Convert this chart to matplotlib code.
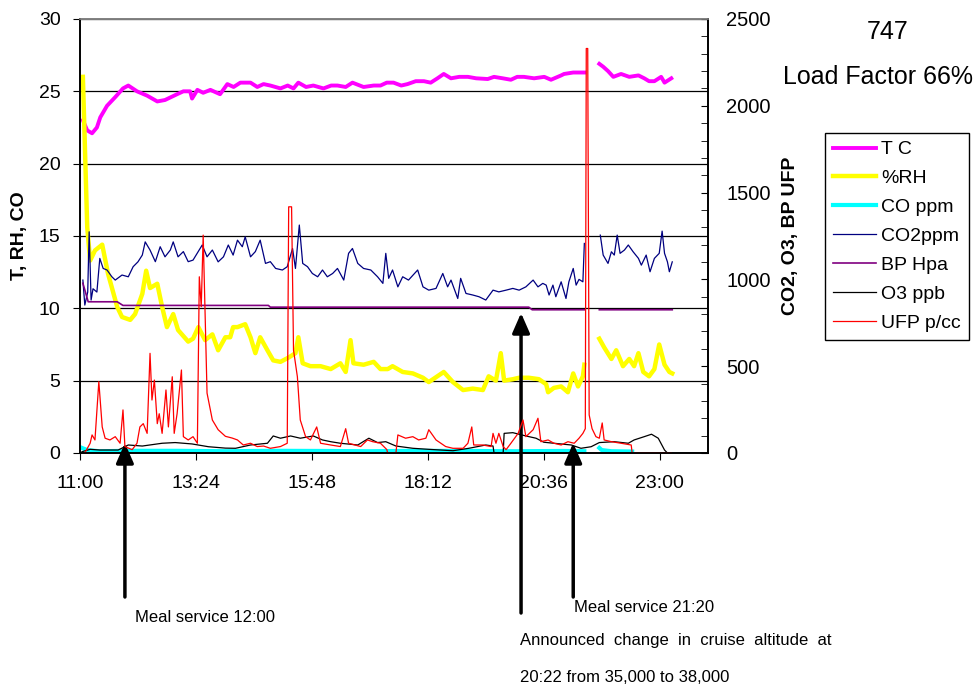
import matplotlib.pyplot as plt
import numpy as np
from matplotlib.transforms import blended_transform_factory

nan = np.nan

# time axis (decimal hours) and tick labels
tick_hours = [11.0, 13.4, 15.8, 18.2, 20.6, 23.0]
tick_labels = ["11:00", "13:24", "15:48", "18:12", "20:36", "23:00"]

# T C (left axis)
t_temp = [11.06, 11.15, 11.25, 11.35, 11.42, 11.56, 11.73, 11.89, 12.00, 12.18,
          12.39, 12.60, 12.76, 13.01, 13.14, 13.28, 13.32, 13.43, 13.55, 13.70,
          13.90, 14.05, 14.18, 14.32, 14.53, 14.67, 14.80, 14.94, 15.15, 15.30,
          15.42, 15.52, 15.68, 15.83, 16.04, 16.20, 16.33, 16.50, 16.64, 16.87,
          17.08, 17.22, 17.35, 17.49, 17.65, 17.78, 17.95, 18.12, 18.26, 18.40,
          18.53, 18.68, 18.85, 19.03, 19.20, 19.44, 19.57, 19.75, 19.92, 20.05,
          20.19, 20.40, 20.61, 20.75, 20.96, 21.02, 21.21, 21.44, nan, 21.75,
          21.83, 21.93, 22.04, 22.20, 22.37, 22.56, 22.68, 22.78, 22.89, 23.03,
          23.10, 23.24]
temp = [23.0, 22.3, 22.1, 22.5, 23.2, 24.0, 24.6, 25.2, 25.4, 25.0,
        24.7, 24.3, 24.4, 24.8, 25.0, 25.0, 24.5, 25.1, 24.9, 25.1,
        24.8, 25.5, 25.3, 25.6, 25.6, 25.3, 25.5, 25.4, 25.2, 25.4,
        25.2, 25.6, 25.3, 25.4, 25.2, 25.4, 25.4, 25.3, 25.6, 25.3,
        25.4, 25.4, 25.6, 25.6, 25.4, 25.5, 25.7, 25.7, 25.6, 25.9,
        26.2, 25.9, 26.0, 26.0, 25.9, 25.85, 26.0, 25.9, 25.8, 26.0,
        26.0, 25.9, 26.0, 25.8, 26.1, 26.2, 26.3, 26.3, nan, 26.9,
        26.7, 26.4, 26.0, 26.2, 26.0, 26.1, 25.9, 25.7, 25.7, 26.0,
        25.6, 25.9]

# %RH (left axis)
t_rh = [11.06, 11.15, 11.21, 11.31, 11.46, 11.58, 11.77, 11.87, 12.04, 12.14,
        12.29, 12.37, 12.45, 12.60, 12.70, 12.80, 12.93, 13.03, 13.24, 13.34,
        13.45, 13.59, 13.74, 13.86, 14.01, 14.11, 14.17, 14.26, 14.42, 14.53,
        14.63, 14.73, 14.88, 15.00, 15.15, 15.32, 15.46, 15.52, 15.61, 15.77,
        15.98, 16.19, 16.39, 16.50, 16.60, 16.66, 16.87, 17.08, 17.22, 17.37,
        17.47, 17.68, 17.89, 18.10, 18.22, 18.53, 18.72, 18.93, 19.13, 19.34,
        19.46, 19.61, 19.71, 19.78, 19.96, 20.09, 20.29, 20.50, 20.65, 20.69,
        20.81, 20.96, 21.10, 21.21, 21.31, 21.41, 21.44, nan, 21.75, 21.85,
        22.00, 22.10, 22.24, 22.37, 22.47, 22.56, 22.66, 22.78, 22.89, 22.99,
        23.10, 23.20, 23.26]
rh = [26.0, 15.6, 13.3, 14.0, 14.4, 12.4, 10.1, 9.4, 9.2, 9.6,
      11.0, 12.6, 11.4, 11.7, 10.1, 8.7, 9.6, 8.5, 7.7, 7.9,
      8.7, 7.8, 8.2, 7.1, 8.0, 8.0, 8.7, 8.7, 8.9, 8.0,
      6.9, 8.0, 7.1, 6.4, 6.3, 6.6, 6.9, 8.0, 6.2, 6.0,
      6.0, 5.8, 6.2, 5.6, 7.8, 6.2, 6.1, 6.3, 5.8, 5.8,
      6.0, 5.6, 5.5, 5.2, 4.9, 5.6, 4.9, 4.35, 4.45, 4.35,
      5.3, 5.0, 6.9, 5.0, 5.1, 5.2, 5.2, 5.1, 4.75, 4.2,
      4.5, 4.6, 4.2, 5.5, 4.6, 5.3, 6.1, nan, 7.9, 7.3,
      6.5, 7.1, 6.0, 6.5, 6.0, 6.9, 5.6, 5.3, 5.8, 7.5,
      6.1, 5.6, 5.5]

# CO ppm (left axis)
t_co = [11.04, 11.15, 11.40, 12.00, 13.00, 14.00, 15.00, 16.00, 17.00, 18.00,
        19.00, 20.00, 21.00, 21.44, nan, 21.75, 21.80, 22.00, 22.43]
co = [0.35, 0.20, 0.12, 0.15, 0.15, 0.12, 0.15, 0.14, 0.12, 0.15,
      0.14, 0.12, 0.14, 0.12, nan, 0.35, 0.20, 0.12, 0.10]

# CO2 ppm (right axis)
t_co2 = [11.06, 11.10, 11.16, 11.19, 11.23, 11.27, 11.35, 11.41, 11.48, 11.56,
         11.66, 11.73, 11.87, 12.00, 12.10, 12.20, 12.29, 12.35, 12.45, 12.56,
         12.66, 12.76, 12.87, 12.93, 13.03, 13.14, 13.24, 13.34, 13.53, 13.63,
         13.74, 13.86, 13.97, 14.07, 14.17, 14.26, 14.36, 14.42, 14.53, 14.63,
         14.73, 14.84, 14.94, 15.05, 15.19, 15.29, 15.40, 15.46, 15.54, 15.61,
         15.71, 15.81, 15.92, 16.02, 16.12, 16.23, 16.33, 16.46, 16.56, 16.64,
         16.75, 16.87, 17.02, 17.16, 17.27, 17.33, 17.39, 17.47, 17.58, 17.68,
         17.80, 17.99, 18.10, 18.22, 18.37, 18.51, 18.61, 18.68, 18.82, 18.88,
         18.99, 19.13, 19.26, 19.40, 19.55, 19.67, 19.82, 19.96, 20.09, 20.23,
         20.38, 20.48, 20.58, 20.65, 20.71, 20.79, 20.85, 20.96, 21.06, 21.12,
         21.21, 21.27, 21.33, 21.41, 21.44, nan, 21.77, 21.83, 21.93, 22.00,
         22.06, 22.12, 22.18, 22.27, 22.35, 22.45, 22.56, 22.62, 22.72, 22.80,
         22.89, 22.99, 23.05, 23.10, 23.16, 23.20, 23.26]
co2 = [996, 852, 927, 1274, 881, 946, 927, 1121, 1063, 1054,
       1015, 996, 1025, 1015, 1073, 1101, 1140, 1216, 1169, 1102,
       1188, 1130, 1169, 1216, 1130, 1160, 1102, 1111, 1198, 1130,
       1169, 1101, 1130, 1198, 1140, 1226, 1188, 1245, 1130, 1160,
       1226, 1092, 1102, 1063, 1054, 1073, 1178, 1063, 1313, 1092,
       1073, 1034, 1015, 1054, 1015, 1034, 1063, 996, 1150, 1178,
       1092, 1063, 1054, 1015, 977, 1150, 1006, 1054, 957, 1015,
       996, 1054, 957, 938, 948, 1034, 957, 996, 890, 1006,
       919, 910, 900, 881, 938, 928, 938, 948, 938, 957,
       996, 957, 977, 967, 910, 967, 900, 986, 890, 986,
       1063, 967, 1000, 986, 1207, nan, 1255, 1140, 1092, 1159,
       1140, 1255, 1150, 1169, 1198, 1159, 1121, 1082, 1140, 1044,
       1121, 1150, 1278, 1150, 1101, 1044, 1101]

# BP Hpa (right axis)
t_bp = [11.06, 11.17, 11.77, 11.89, 14.90, 14.94, 20.29, 20.36, 21.44, nan, 21.75, 23.26]
bp = [978, 871, 871, 850, 850, 840, 840, 825, 825, nan, 825, 825]

# O3 ppb (right axis)
t_o3 = [11.04, 11.21, 11.41, 11.79, 12.00, 12.29, 12.70, 12.97, 13.32, 13.66,
        14.01, 14.22, 14.53, 14.88, 15.00, 15.15, 15.36, 15.56, 15.83, 16.02,
        16.19, 16.39, 16.75, 16.98, 17.16, 17.33, 17.54, 17.89, 18.22, 18.72,
        19.05, 19.40, 19.55, 19.57, 19.76, 19.78, 19.96, 20.23, 20.44, 20.60,
        20.81, 21.17, 21.37, 21.58, 21.75, 22.06, 22.35, 22.47, 22.68, 22.83,
        22.97, 23.10, 23.16]
o3 = [7, 21, 17, 17, 46, 40, 56, 60, 52, 36,
      28, 27, 46, 56, 98, 85, 98, 85, 98, 75,
      65, 56, 46, 85, 60, 65, 40, 27, 21, 13,
      27, 46, 40, 2, 2, 113, 117, 98, 85, 62,
      56, 46, 27, 36, 60, 65, 56, 75, 94, 108,
      85, 17, 0]

# UFP p/cc (right axis)
t_ufp = [11.10, 11.21, 11.25, 11.31, 11.39, 11.46, 11.52, 11.62, 11.73, 11.83,
         11.89, 11.93, 12.08, 12.18, 12.24, 12.31, 12.39, 12.45, 12.49, 12.54,
         12.60, 12.64, 12.70, 12.78, 12.83, 12.91, 12.95, 13.01, 13.10, 13.14,
         13.24, 13.34, 13.43, 13.47, 13.51, 13.55, 13.63, 13.74, 13.86, 14.01,
         14.15, 14.26, 14.38, 14.53, 14.67, 14.80, 14.94, 15.15, 15.29, 15.32,
         15.38, 15.42, 15.50, 15.56, 15.67, 15.77, 15.90, 15.98, 16.19, 16.39,
         16.50, 16.56, 16.81, 16.95, 17.06, 17.22, 17.35, 17.37, 17.54, 17.58,
         17.74, 17.89, 18.01, 18.16, 18.22, 18.37, 18.57, 18.72, 18.93, 19.03,
         19.11, 19.15, 19.34, 19.51, 19.55, 19.61, 19.67, 19.76, 19.82, 19.92,
         20.07, 20.17, 20.23, 20.38, 20.48, 20.54, 20.69, 20.81, 20.96, 21.10,
         21.23, 21.33, 21.41, 21.46, 21.48, 21.51, 21.54, 21.60, 21.68,
         21.75, 21.81, 21.85, 22.00, 22.20, 22.41, 22.43, 23.24]
ufp = [0, 56, 104, 75, 411, 150, 85, 75, 94, 56,
       248, 37, 19, 56, 150, 169, 113, 574, 305, 420,
       169, 226, 113, 363, 150, 439, 113, 226, 478, 94,
       75, 94, 56, 1015, 843, 1255, 345, 190, 134, 96,
       86, 75, 46, 56, 37, 40, 27, 37, 56, 1418,
       1418, 593, 439, 190, 94, 75, 150, 56, 46, 37,
       140, 56, 37, 75, 65, 56, 20, 0, 0, 104,
       85, 94, 75, 85, 134, 75, 37, 27, 27, 56,
       150, 46, 46, 37, 113, 56, 113, 37, 19, 56,
       113, 190, 94, 134, 200, 65, 75, 56, 46, 65,
       56, 85, 113, 140, 2330, 2330, 219, 140, 94,
       85, 173, 75, 65, 56, 46, 0, 0]

plt.rcParams['font.family'] = ['Liberation Sans', 'DejaVu Sans']

fig = plt.figure(figsize=(9.79, 6.88), dpi=100)
ax = fig.add_axes([0.0817, 0.3416, 0.6415, 0.6308])
ax2 = ax.twinx()

l1, = ax.plot(t_temp, temp, color='#FF00FF', lw=2.8, label='T C')
l2, = ax.plot(t_rh, rh, color='#FFFF00', lw=3.2, label='%RH')
l3, = ax.plot(t_co, co, color='#00FFFF', lw=3.0, label='CO ppm')
l4, = ax2.plot(t_co2, co2, color='#000080', lw=0.9, label='CO2ppm')
l5, = ax2.plot(t_bp, bp, color='#800080', lw=1.2, label='BP Hpa')
l6, = ax2.plot(t_o3, o3, color='black', lw=0.9, label='O3 ppb')
l7, = ax2.plot(t_ufp, ufp, color='#FF0000', lw=0.9, label='UFP p/cc')

ax.set_xlim(11, 24)
ax.set_ylim(0, 30)
ax2.set_ylim(0, 2500)
ax.set_xticks(tick_hours)
ax.set_xticklabels(tick_labels)
ax.set_yticks(range(0, 31, 5))
ax.yaxis.grid(True, color='black', lw=0.9)
ax.tick_params(axis='both', labelsize=14, direction='out', length=5)
ax.tick_params(axis='y', pad=9)
ax.tick_params(axis='x', pad=11)
ax2.set_yticks(range(0, 2501, 500))
ax2.set_yticks(range(0, 2501, 100), minor=True)
ax2.tick_params(axis='y', which='both', direction='in', length=5, labelsize=14.5, pad=13)
for a in (ax, ax2):
    a.spines['top'].set_color('#808080')
    a.spines['top'].set_linewidth(1.2)
    a.spines['left'].set_linewidth(1.2)
    a.spines['right'].set_linewidth(1.2)
    a.spines['bottom'].set_linewidth(1.2)

fig.text(20 / 979, 1 - 236 / 688, "T, RH, CO", rotation=90, ha='center', va='center',
         fontsize=14, fontweight='bold')
fig.text(791 / 979, 1 - 236 / 688, "CO2, O3, BP UFP", rotation=90, ha='center', va='center',
         fontsize=14, fontweight='bold')
fig.text(888 / 979, 1 - 32 / 688, "747", ha='center', va='center', fontsize=18)
fig.text(878 / 979, 1 - 77 / 688, "Load Factor 66%", ha='center', va='center', fontsize=18)

leg = fig.legend(handles=[l1, l2, l3, l4, l5, l6, l7], loc='upper left',
                 bbox_to_anchor=(825 / 979, 1 - 133 / 688), fontsize=14,
                 frameon=True, fancybox=False, edgecolor='black', framealpha=1,
                 handlelength=2.2, handletextpad=0.3, labelspacing=0.58,
                 borderpad=0.4, borderaxespad=0)
leg.get_frame().set_linewidth(1.0)

# annotation arrows (x in hours, y in figure fraction)
trans = blended_transform_factory(ax.transData, fig.transFigure)
arrows = [(11.93, 1 - 597 / 688, 1 - 443 / 688),
          (20.13, 1 - 613 / 688, 1 - 313 / 688),
          (21.21, 1 - 597 / 688, 1 - 443 / 688)]
for xh, yb, yt in arrows:
    ax.annotate('', xy=(xh, yt), xytext=(xh, yb), xycoords=trans, textcoords=trans,
                annotation_clip=False,
                arrowprops=dict(arrowstyle='-|>,head_length=0.8,head_width=0.35',
                                lw=2.5, color='black', mutation_scale=15,
                                shrinkA=0, shrinkB=0))

fig.text(135 / 979, 1 - 617 / 688, "Meal service 12:00", ha='left', va='center', fontsize=12)
fig.text(574 / 979, 1 - 607 / 688, "Meal service 21:20", ha='left', va='center', fontsize=12)
fig.text(520 / 979, 1 - 640 / 688, "Announced  change  in  cruise  altitude  at",
         ha='left', va='center', fontsize=12)
fig.text(520 / 979, 1 - 678 / 688, "20:22 from 35,000 to 38,000", ha='left', va='center',
         fontsize=12)

fig.savefig('out.png', dpi=100)
